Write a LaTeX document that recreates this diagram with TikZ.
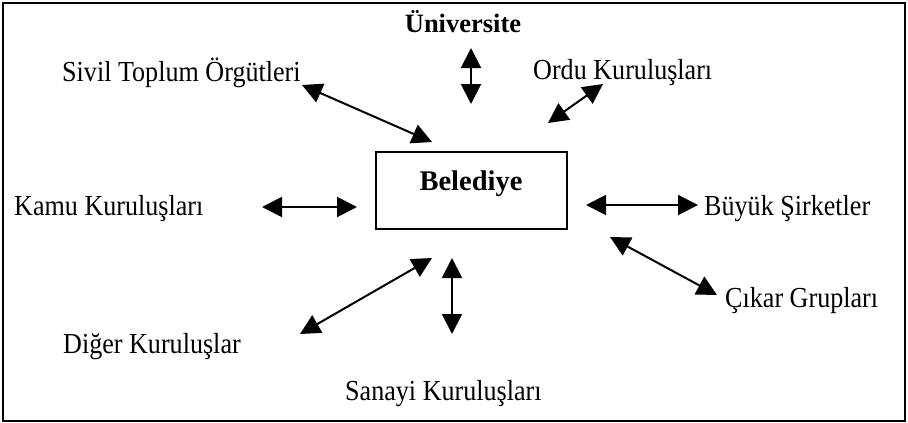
\documentclass[tikz,border=0pt]{standalone}
\usepackage{fontspec}
\setmainfont{Liberation Serif}
\newfontfamily\lblfont{Liberation Serif}[FakeStretch=0.9]
\usetikzlibrary{arrows.meta}
\begin{document}
\begin{tikzpicture}[x=1pt,y=-1pt,
  lbl/.style={anchor=base west, inner sep=0pt, font=\lblfont\fontsize{29}{32}\selectfont},
  blbl/.style={anchor=base, inner sep=0pt, font=\fontsize{27}{30}\selectfont\bfseries},
  boxnode/.style={draw, line width=2pt, minimum width=191pt, minimum height=77pt, inner sep=0pt},
  link/.style={line width=2pt, {Triangle[length=20pt,width=20pt]}-{Triangle[length=20pt,width=20pt]}},
]
\useasboundingbox (0,0) rectangle (908,423);
\draw[line width=1.3pt] (3,3) rectangle (905,421);

% central box
\node[boxnode] (belbox) at (471.5,190.5) {};
\node[blbl, font=\fontsize{28.5}{30}\selectfont\bfseries] (bel) at (471,190) {Belediye};

% labels
\node[blbl, font=\fontsize{26.5}{30}\selectfont\bfseries] (uni) at (463,32) {Üniversite};
\node[lbl] (stk) at (62,81) {Sivil Toplum Örgütleri};
\node[lbl] (ordu) at (533,79) {Ordu Kuruluşları};
\node[lbl] (kamu) at (14,215) {Kamu Kuruluşları};
\node[lbl] (buyuk) at (704,215) {Büyük Şirketler};
\node[lbl] (cikar) at (725,307) {Çıkar Grupları};
\node[lbl] (diger) at (63,353) {Diğer Kuruluşlar};
\node[lbl] (sanayi) at (345,400) {Sanayi Kuruluşları};

% arrow ends
\coordinate (uniA) at (471,48);   \coordinate (uniB) at (471,104);
\coordinate (stkA) at (302,85);   \coordinate (stkB) at (432,142);
\coordinate (orduA) at (603,84);  \coordinate (orduB) at (548,123);
\coordinate (kamuA) at (262,207); \coordinate (kamuB) at (357,207);
\coordinate (buyA) at (586,205);  \coordinate (buyB) at (698,205);
\coordinate (cikA) at (610,237);  \coordinate (cikB) at (717,295);
\coordinate (digA) at (300,334);  \coordinate (digB) at (432,258);
\coordinate (sanA) at (452,258);  \coordinate (sanB) at (452,334);

\draw[link] (uniA) -- (uniB);
\draw[link] (stkA) -- (stkB);
\draw[link] (orduA) -- (orduB);
\draw[link] (kamuA) -- (kamuB);
\draw[link] (buyA) -- (buyB);
\draw[link] (cikA) -- (cikB);
\draw[link] (digA) -- (digB);
\draw[link] (sanA) -- (sanB);
\end{tikzpicture}
\end{document}
